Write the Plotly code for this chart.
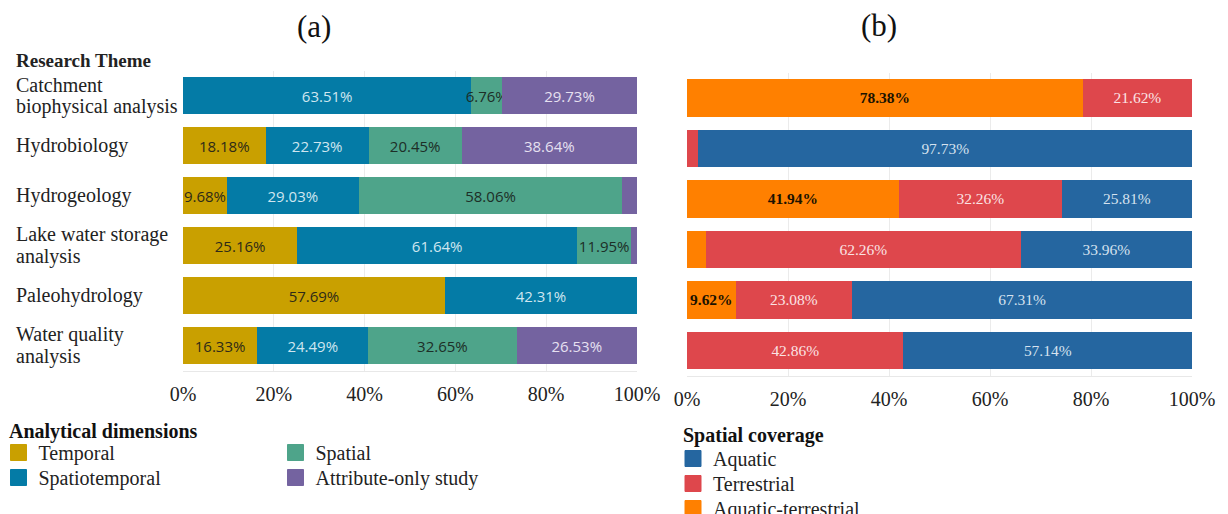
import plotly.graph_objects as go

# Research themes, top to bottom
themes = [
    "Catchment biophysical analysis",
    "Hydrobiology",
    "Hydrogeology",
    "Lake water storage analysis",
    "Paleohydrology",
    "Water quality analysis",
]
# Wrapped label lines for each theme
theme_lines = [
    ["Catchment", "biophysical analysis"],
    ["Hydrobiology"],
    ["Hydrogeology"],
    ["Lake water storage", "analysis"],
    ["Paleohydrology"],
    ["Water quality", "analysis"],
]

# (a) Analytical dimensions, share of studies (%)
temporal = [0.00, 18.18, 9.68, 25.16, 57.69, 16.33]
spatiotemporal = [63.51, 22.73, 29.03, 61.64, 42.31, 24.49]
spatial = [6.76, 20.45, 58.06, 11.95, 0.00, 32.65]
attribute_only = [29.73, 38.64, 3.23, 1.25, 0.00, 26.53]

# (b) Spatial coverage, share of studies (%)
aquatic_terrestrial = [78.38, 0.00, 41.94, 3.78, 9.62, 0.00]
terrestrial = [21.62, 2.27, 32.26, 62.26, 23.08, 42.86]
aquatic = [0.00, 97.73, 25.81, 33.96, 67.31, 57.14]

pct_ticks = [0, 20, 40, 60, 80, 100]
pct_ticktext = ["0%", "20%", "40%", "60%", "80%", "100%"]

SERIF = "Liberation Serif, Times New Roman, serif"
SANS = "Open Sans, Noto Sans, sans-serif"
W, H = 1228, 514


def seg_labels(values, min_show=5.0):
    return [f"{v:.2f}%" if v >= min_show else "" for v in values]


def legend_swatch(name, color, legend, xaxis, yaxis):
    # Empty marker trace that only supplies a larger square legend key
    return go.Scatter(
        x=[None], y=[None], mode="markers", name=name,
        marker=dict(symbol="square", size=16, color=color,
                    line=dict(width=1, color=color)),
        xaxis=xaxis, yaxis=yaxis, legend=legend,
        showlegend=True, hoverinfo="skip",
    )


fig = go.Figure()

# name, values, bar colour, label colour, legend id, legend key position (px)
left_series = [
    ("Temporal", temporal, "#C9A000", "#2e2a18", "legend", (-1.5, 433)),
    ("Spatiotemporal", spatiotemporal, "#047BA6", "#cfe6f0", "legend2", (-1.5, 458)),
    ("Spatial", spatial, "#4EA48A", "#1d2e27", "legend3", (275.5, 433)),
    ("Attribute-only study", attribute_only, "#7463A0", "#e6e0f0", "legend4", (275.5, 458)),
]
for name, vals, color, tcolor, leg, pos in left_series:
    fig.add_trace(go.Bar(
        y=themes, x=vals, name=name, orientation="h",
        marker=dict(color=color, line=dict(width=0)),
        text=seg_labels(vals), textposition="inside",
        insidetextanchor="middle", textangle=0,
        textfont=dict(family=SANS, size=15, color=tcolor),
        xaxis="x", yaxis="y", showlegend=False, hoverinfo="skip",
    ))
for name, vals, color, tcolor, leg, pos in left_series:
    fig.add_trace(legend_swatch(name, color, leg, "x", "y"))

right_series = [
    ("Aquatic-terrestrial", aquatic_terrestrial, "#FF8000", "#1a1200", "bold", "legend7", (673, 489)),
    ("Terrestrial", terrestrial, "#DE474C", "#fbe3e4", "normal", "legend6", (673, 464)),
    ("Aquatic", aquatic, "#2566A0", "#d6e2ef", "normal", "legend5", (673, 439)),
]
for name, vals, color, tcolor, weight, leg, pos in right_series:
    fig.add_trace(go.Bar(
        y=themes, x=vals, name=name, orientation="h",
        marker=dict(color=color, line=dict(width=0)),
        text=seg_labels(vals), textposition="inside",
        insidetextanchor="middle", textangle=0,
        textfont=dict(family=SERIF, size=16, color=tcolor, weight=weight),
        xaxis="x2", yaxis="y2", showlegend=False, hoverinfo="skip",
    ))
for name, vals, color, tcolor, weight, leg, pos in right_series:
    fig.add_trace(legend_swatch(name, color, leg, "x2", "y2"))

xaxis_common = dict(
    range=[0, 100], tickvals=pct_ticks, ticktext=pct_ticktext,
    showgrid=True, gridcolor="#ebebeb", gridwidth=1,
    zeroline=False, showline=True, linecolor="#e8e8e8", linewidth=1,
    ticks="", ticklabelstandoff=5,
    tickfont=dict(family=SERIF, size=20, color="#222222"),
    fixedrange=True,
)
yaxis_common = dict(
    type="category", categoryorder="array",
    categoryarray=themes, autorange="reversed",
    showticklabels=False, showgrid=False, zeroline=False, showline=False,
    ticks="", fixedrange=True,
)

legend_common = dict(
    orientation="v", bgcolor="rgba(0,0,0,0)", borderwidth=0,
    font=dict(family=SERIF, size=20, color="#222222"),
    itemclick=False, itemdoubleclick=False,
    xanchor="left", yanchor="top",
)

legends = {}
for entry in left_series:
    leg, (px, py) = entry[4], entry[5]
    legends[leg] = dict(x=px / W, y=1 - py / H, **legend_common)
for entry in right_series:
    leg, (px, py) = entry[5], entry[6]
    legends[leg] = dict(x=px / W, y=1 - py / H, **legend_common)

fig.update_layout(
    width=W, height=H,
    margin=dict(l=0, r=0, t=0, b=0, autoexpand=False),
    paper_bgcolor="white", plot_bgcolor="white",
    barmode="stack", bargap=0.26,
    uniformtext=dict(minsize=15, mode="show"),
    xaxis=dict(domain=[183 / W, 637 / W], anchor="y", **xaxis_common),
    yaxis=dict(domain=[1 - 371 / H, 1 - 70.5 / H], anchor="x", **yaxis_common),
    xaxis2=dict(domain=[687 / W, 1192 / W], anchor="y2", **xaxis_common),
    yaxis2=dict(domain=[1 - 376 / H, 1 - 72.5 / H], anchor="x2", **yaxis_common),
    showlegend=True,
    **legends,
)

title_font = dict(family=SERIF, size=31, color="#111111")
annotations = [
    dict(text="(a)", x=314 / W, y=1 - 26 / H, xref="paper", yref="paper",
         xanchor="center", yanchor="middle", showarrow=False, font=title_font),
    dict(text="(b)", x=879 / W, y=1 - 25 / H, xref="paper", yref="paper",
         xanchor="center", yanchor="middle", showarrow=False, font=title_font),
    dict(text="<b>Research Theme</b>", x=14 / W, y=1 - 60 / H,
         xref="paper", yref="paper", xanchor="left", yanchor="middle",
         showarrow=False, font=dict(family=SERIF, size=19, color="#222222")),
    dict(text="<b>Analytical dimensions</b>", x=7 / W, y=1 - 431 / H,
         xref="paper", yref="paper", xanchor="left", yanchor="middle",
         showarrow=False, font=dict(family=SERIF, size=20, color="#111111")),
    dict(text="<b>Spatial coverage</b>", x=681 / W, y=1 - 435 / H,
         xref="paper", yref="paper", xanchor="left", yanchor="middle",
         showarrow=False, font=dict(family=SERIF, size=20, color="#111111")),
]
LINE_STEP = 22
for theme, lines in zip(themes, theme_lines):
    n = len(lines)
    for i, line in enumerate(lines):
        annotations.append(dict(
            text=line, x=14 / W, y=theme, xref="paper", yref="y",
            xanchor="left", yanchor="middle", align="left", showarrow=False,
            yshift=((n - 1) / 2 - i) * LINE_STEP,
            font=dict(family=SERIF, size=20, color="#222222"),
        ))
fig.update_layout(annotations=annotations)

fig.write_html("out.html", config={"displayModeBar": False})
